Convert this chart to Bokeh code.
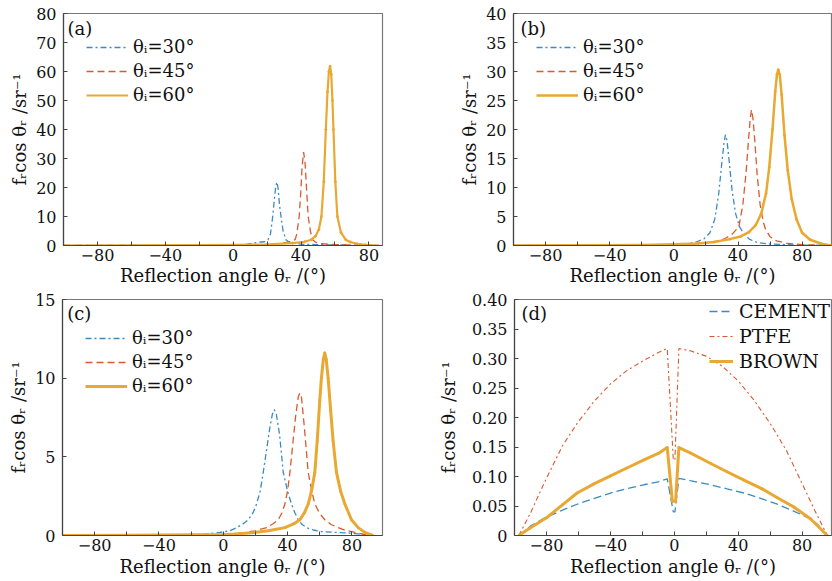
from bokeh.plotting import figure
from bokeh.layouts import column, row
from bokeh.models import Legend, LegendItem, Label, FixedTicker, Range1d
from bokeh.embed import file_html
from bokeh.resources import INLINE

FONT = "DejaVu Serif"
BLUE = "#3A8BC2"
RED = "#D85A2E"
YEL = "#E8A832"

# ---------------- data ----------------
X_TICKS = [-80, -60, -40, -20, 0, 20, 40, 60, 80]
X_LABELS = {-80: "\u221280", -60: "", -40: "\u221240", -20: "", 0: "0", 20: "", 40: "40", 60: "", 80: "80"}

A_YTICKS = [0, 10, 20, 30, 40, 50, 60, 70, 80]
B_YTICKS = [0, 5, 10, 15, 20, 25, 30, 35, 40]
C_YTICKS = [0, 5, 10, 15]
D_YTICKS = [0, 0.05, 0.1, 0.15, 0.2, 0.25, 0.3, 0.35, 0.4]
D_YLABELS = ["0", "0.05", "0.10", "0.15", "0.20", "0.25", "0.30", "0.35", "0.40"]

SERIES_ABC = ["\u03b8\u1d62=30\u00b0", "\u03b8\u1d62=45\u00b0", "\u03b8\u1d62=60\u00b0"]
SERIES_D = ["CEMENT", "PTFE", "BROWN"]

# panel (a)
A_X30 = [-100, -60, -20, 0, 8, 12.5, 16, 18.5, 20.5, 22, 23.3, 24.3, 25.1, 25.8, 26.5, 27.3, 28.2, 29.4, 31.1, 33, 36, 42, 55, 70, 86]
A_Y30 = [0, 0, 0.05, 0.15, 0.4, 0.9, 1.2, 1.3, 2, 4, 10, 16, 20.5, 21.9, 19.5, 14, 10, 5, 2, 1.1, 0.7, 0.4, 0.25, 0.15, 0]
A_X45 = [-100, -40, 0, 20, 28, 32, 35, 36.5, 37.5, 38.9, 39.8, 40.6, 41.5, 42.3, 43.2, 44.2, 45.5, 46.8, 48.5, 52, 60, 72, 86]
A_Y45 = [0, 0, 0.1, 0.3, 0.7, 1.2, 1.6, 2, 4, 10, 18, 27, 32.2, 29, 20, 10, 5, 2, 1.2, 0.6, 0.3, 0.15, 0]
A_X60 = [-100, -60, -20, 0, 20, 35, 42, 46, 48.5, 50.5, 52, 53.4, 54.6, 55.6, 56.4, 57.1, 57.8, 58.5, 59.1, 60.2, 61.4, 63.5, 66.3, 69, 73, 78, 84]
A_Y60 = [0, 0.05, 0.15, 0.25, 0.4, 0.8, 1.3, 2, 3.2, 5.5, 10, 22, 40, 53, 60, 61.8, 59, 50, 40, 22, 10, 4.5, 2, 1.2, 0.6, 0.25, 0]

# panel (b)
B_X30 = [-100, -40, -10, 0, 8, 14, 19, 22.5, 25.5, 28, 30, 31.3, 32.2, 33.2, 34.5, 36.3, 38.5, 41, 43.7, 47, 52, 60, 75, 98]
B_Y30 = [0, 0, 0.05, 0.1, 0.3, 0.6, 1.2, 2.2, 4.5, 9, 14.5, 17.8, 19.1, 18, 14.5, 9.5, 5.5, 3.2, 2, 1.1, 0.5, 0.25, 0.1, 0]
B_X45 = [-100, -20, 0, 15, 25, 32, 36.5, 40.5, 43, 45, 46.5, 47.6, 48.4, 49.3, 50.5, 52, 53.8, 55.8, 57.2, 60, 64, 70, 80, 98]
B_Y45 = [0, 0.05, 0.15, 0.3, 0.6, 1.2, 2, 3.2, 7, 12.5, 18, 21.8, 23.4, 22, 18, 12, 7, 4, 2.8, 1.5, 0.8, 0.4, 0.15, 0]
B_X60 = [-100, -60, -20, 0, 15, 25, 35, 42, 46.8, 51, 54.5, 57.5, 59.5, 61.5, 63.2, 64.3, 65.1, 66, 67.2, 69, 71, 73.5, 76.5, 80, 85, 92, 98]
B_Y60 = [0, 0.03, 0.1, 0.2, 0.35, 0.6, 1.1, 1.6, 2.3, 3.5, 5.5, 9, 13.5, 20, 26.5, 29.5, 30.3, 29.5, 26, 19, 13, 8, 4.5, 2.2, 1, 0.3, 0]

# panel (c)
C_X30 = [-100, -60, -30, -10, -2, 4, 8.3, 12, 15.5, 18.5, 20.7, 23, 24.8, 27, 29, 30.5, 31.7, 33, 35, 37.3, 40, 42.4, 44.5, 46.6, 49, 51.8, 56, 61, 70, 79.7, 86, 92]
C_Y30 = [0, 0, 0.02, 0.1, 0.2, 0.3, 0.5, 0.72, 1, 1.45, 2, 2.85, 4, 5.5, 6.9, 7.7, 8, 7.7, 6.4, 4, 2.8, 2, 1.45, 1, 0.7, 0.5, 0.35, 0.25, 0.2, 0.15, 0.08, 0]
C_X45 = [-100, -40, -10, 0, 8, 13.5, 20, 27, 31, 34.2, 36.5, 38.3, 40, 41.4, 43, 45, 46.6, 47.6, 48.6, 50.3, 52.8, 55, 56.9, 60, 63.1, 67, 71.4, 76, 81.8, 87, 92]
C_Y45 = [0, 0, 0.03, 0.07, 0.13, 0.2, 0.3, 0.5, 0.75, 1, 1.45, 2, 2.85, 4, 5.6, 7.6, 8.8, 9.06, 8.8, 7, 4, 2.85, 2, 1.4, 1, 0.7, 0.5, 0.33, 0.2, 0.08, 0]
C_X60 = [-100, -60, -20, 0, 7.2, 18, 28, 38.3, 44, 47.6, 50.5, 52.8, 55, 56.9, 58.4, 60, 61, 62.2, 63.1, 64, 65.2, 66.8, 68.3, 70.4, 73, 75.6, 79.7, 83.9, 88, 93]
C_Y60 = [0, 0.01, 0.04, 0.07, 0.1, 0.18, 0.3, 0.5, 0.75, 1, 1.45, 2, 2.9, 4, 6, 8.6, 10, 11.2, 11.6, 11.2, 10, 7.9, 6, 4, 2.8, 2, 1, 0.5, 0.2, 0]

# panel (d)
D_X_CEM = [-97.3, -90, -81.6, -70, -60.8, -50, -39.9, -30, -19, -10, -4.4, -0.6, 0.4, 2.9, 10, 22.8, 33, 43.6, 55, 64.5, 75, 85.4, 90, 94.8]
D_Y_CEM = [0, 0.016, 0.029, 0.043, 0.053, 0.063, 0.072, 0.079, 0.086, 0.091, 0.096, 0.04, 0.04, 0.097, 0.093, 0.086, 0.079, 0.072, 0.062, 0.053, 0.041, 0.028, 0.018, 0.003]
D_X_PTF = [-97.3, -90, -81.6, -70, -60.8, -50, -39.9, -30, -19, -10, -4.4, -0.6, 0.4, 2.9, 10, 20, 30, 40, 50, 60, 70, 80, 88, 95.8]
D_Y_PTF = [0, 0.038, 0.088, 0.152, 0.19, 0.228, 0.257, 0.279, 0.297, 0.31, 0.317, 0.128, 0.128, 0.317, 0.313, 0.304, 0.287, 0.262, 0.229, 0.19, 0.145, 0.088, 0.042, 0]
D_X_BRN = [-97.3, -90, -80, -70, -60.8, -50, -39.9, -30, -19, -10, -4.4, -1.2, 0.8, 2.9, 10, 22.8, 33, 43.6, 55, 64.5, 75, 85.4, 95.8]
D_Y_BRN = [0, 0.013, 0.03, 0.052, 0.072, 0.088, 0.101, 0.114, 0.128, 0.139, 0.149, 0.058, 0.058, 0.149, 0.14, 0.122, 0.108, 0.094, 0.079, 0.064, 0.048, 0.028, 0]

X_TITLE = "Reflection angle \u03b8\u1d63 /(\u00b0)"
Y_TITLE = "f\u1d63cos \u03b8\u1d63 /sr\u207b\u00b9"


def make_fig(w, h, xr, yr, yticks, ylabels, lb, rb, tb, bb, xstand, ystand):
    p = figure(width=w, height=h, x_range=Range1d(*xr), y_range=Range1d(*yr),
               output_backend="svg", toolbar_location=None,
               min_border_left=lb, min_border_right=rb, min_border_top=tb, min_border_bottom=bb)
    p.grid.visible = False
    p.background_fill_color = "white"
    p.border_fill_color = "white"
    p.outline_line_color = "#777777"
    p.outline_line_width = 1.2
    for ax in (p.xaxis[0], p.yaxis[0]):
        ax.axis_line_color = "#444444"
        ax.axis_line_width = 1.2
        ax.major_tick_in = 4
        ax.major_tick_out = 0
        ax.major_tick_line_color = "#444444"
        ax.minor_tick_line_color = None
        ax.major_label_text_font = FONT
        ax.major_label_text_font_size = "16px"
        ax.major_label_text_color = "#111111"
        ax.axis_label_text_font = FONT
        ax.axis_label_text_font_size = "18px"
        ax.axis_label_text_font_style = "normal"
        ax.axis_label_text_color = "#111111"
    p.xaxis.ticker = FixedTicker(ticks=X_TICKS)
    p.xaxis.major_label_overrides = X_LABELS
    p.xaxis.major_label_standoff = 3
    p.xaxis.axis_label = X_TITLE
    p.xaxis.axis_label_standoff = xstand
    p.yaxis.ticker = FixedTicker(ticks=yticks)
    p.yaxis.major_label_overrides = {t: l for t, l in zip(yticks, ylabels)}
    p.yaxis.major_label_standoff = 7
    p.yaxis.axis_label = Y_TITLE
    p.yaxis.axis_label_standoff = ystand
    return p


def three_series(p, xs, ys, names, yw):
    r1 = p.line(xs[0], ys[0], line_color=BLUE, line_width=1.3, line_dash="6 3 2 3")
    r2 = p.line(xs[1], ys[1], line_color=RED, line_width=1.3, line_dash="7 4")
    r3 = p.line(xs[2], ys[2], line_color=YEL, line_width=yw, line_join="round")
    p.scatter(xs[2], ys[2], size=2, fill_color=YEL, line_color=YEL)
    return [LegendItem(label=names[0], renderers=[r1]),
            LegendItem(label=names[1], renderers=[r2]),
            LegendItem(label=names[2], renderers=[r3])]


def add_legend(p, items, loc, pad, gw, spacing, stand, fsize="18px", spacer=None):
    lg = Legend(items=items, location=loc, margin=0, padding=pad, spacing=spacing,
                glyph_width=gw, glyph_height=20, label_height=20, label_standoff=stand,
                label_text_font=FONT, label_text_font_size=fsize, label_text_color="#111111",
                background_fill_alpha=0, border_line_alpha=0)
    if spacer is not None:
        lg.title = " "
        lg.title_text_font_size = "1px"
        lg.title_standoff = spacer
    p.add_layout(lg)


def panel_tag(p, x, y, txt):
    p.add_layout(Label(x=x, y=y, text=txt, text_font=FONT, text_font_size="18px",
                       text_baseline="middle", text_align="left", text_color="#111111"))


# (a)
pa = make_fig(415, 289, (-100, 88), (0, 80), A_YTICKS, [str(t) for t in A_YTICKS], 63, 33, 13, 44, 1, 3)
items = three_series(pa, [A_X30, A_X45, A_X60], [A_Y30, A_Y45, A_Y60], SERIES_ABC, 2.2)
add_legend(pa, items, "top_left", 23, 42, 3, 5)
panel_tag(pa, -97.6, 74.8, "(a)")

# (b)
pb = make_fig(417, 289, (-100, 98.3), (0, 40), B_YTICKS, [str(t) for t in B_YTICKS], 98, 1, 13, 44, 1, 3)
items = three_series(pb, [B_X30, B_X45, B_X60], [B_Y30, B_Y45, B_Y60], SERIES_ABC, 2.5)
add_legend(pb, items, "top_left", 23, 42, 3, 5)
panel_tag(pb, -95.6, 37.4, "(b)")

# (c)
pc = make_fig(415, 292, (-100, 99), (0, 15), C_YTICKS, [str(t) for t in C_YTICKS], 62, 33, 10, 46, 2, 3)
items = three_series(pc, [C_X30, C_X45, C_X60], [C_Y30, C_Y45, C_Y60], SERIES_ABC, 3)
add_legend(pc, items, "top_left", 23, 42, 3, 5, spacer=4)
panel_tag(pc, -97.1, 14.1, "(c)")

# (d)
pd_ = make_fig(417, 292, (-100, 98.4), (0, 0.4), D_YTICKS, D_YLABELS, 99, 1, 10, 46, 2, 10)
r1 = pd_.line(D_X_CEM, D_Y_CEM, line_color=BLUE, line_width=1.3, line_dash="8 4")
r2 = pd_.line(D_X_PTF, D_Y_PTF, line_color=RED, line_width=1.1, line_dash="5 3 2 3")
r3 = pd_.line(D_X_BRN, D_Y_BRN, line_color=YEL, line_width=3, line_join="round")
pd_.scatter(D_X_BRN, D_Y_BRN, size=2, fill_color=YEL, line_color=YEL)
items = [LegendItem(label=SERIES_D[0], renderers=[r1]),
         LegendItem(label=SERIES_D[1], renderers=[r2]),
         LegendItem(label=SERIES_D[2], renderers=[r3])]
add_legend(pd_, items, "top_right", 1, 24, 3, 6, fsize="19px")
panel_tag(pd_, -95.6, 0.376, "(d)")

layout = column(row(pa, pb), row(pc, pd_))

with open("out.html", "w") as f:
    f.write(file_html(layout, INLINE))
